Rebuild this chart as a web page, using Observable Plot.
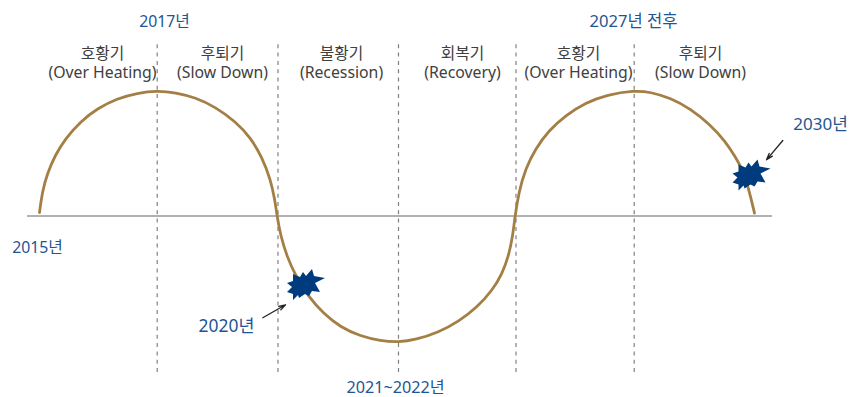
<!DOCTYPE html>
<html lang="ko">
<head>
<meta charset="utf-8">
<style>
  html, body { margin: 0; padding: 0; background: #fff; }
  svg { display: block; }
</style>
<script src="https://cdn.jsdelivr.net/npm/d3@7"></script>
<script src="https://cdn.jsdelivr.net/npm/@observablehq/plot@0.6"></script>
</head>
<body>
<div id="chart"></div>
<script>
// Business cycle curve: horizontal position and height above the trend line
const cycleX = [39,39,41.7,46.7,55,65,80,96.7,116.7,136.7,156.7,175,195,215,235,250,261.7,270,274.3,276.5,280,286.7,295,308.3,323.3,340,360,380,398.3,415,438.3,458.3,476.7,491.7,501.7,508.3,512.3,514.6,518.3,525,535,548.3,565,585,606.7,633.3,650,670,690,710,725,735,741.7,748.3,754,754];
const cycleY = [3,3,23.3,42,61,77,94,107,117,122.5,124.8,123,118,108.5,94,78,58,36,16,0,-20,-41.7,-60,-81.7,-98.3,-111.7,-120.7,-125.3,-126.7,-124.3,-116.7,-106,-91.7,-75,-58.3,-40,-20,0,23.3,46.7,66.7,85,100,112.7,120.7,125,123.5,117.5,106.7,90.5,74,58.3,46.7,26.7,2.3,2.3];

// Phase boundaries
const boundaries = [156.7,277.5,398,515.5,633.7];

// Phase captions
const phaseX = [102,222,341,462,578,700];
const phaseKo = ["호황기","후퇴기","불황기","회복기","호황기","후퇴기"];
const phaseEn = ["(Over Heating)","(Slow Down)","(Recession)","(Recovery)","(Over Heating)","(Slow Down)"];

// Year annotations
const yearLabels = ["2017년","2027년 전후","2015년","2020년","2021~2022년","2030년"];
const yearX = [164,633,37,226,395,820];
const yearY = [194,194,-32,-110.5,-172,90.5];
const yearSize = [15.8,16.6,15.8,17.4,16.2,17];

// Shock markers on the curve
const shockX = [304.5,750];
const shockY = [-70.5,39];

// Arrows from the year labels to the shock markers
const arrowX1 = [262.3,782.3];
const arrowY1 = [-102.3,75];
const arrowX2 = [285,766];
const arrowY2 = [-89.3,55.7];

const navy = "#003c7d";
const yearBlue = "#1f5592";
const font = "'Noto Sans', 'Noto Sans CJK KR', sans-serif";

// Outline of the burst marker, clockwise from its longest spike, in units of r/10
const burstOutline = [
  [20,-8],[10,-3],[15,6],[7,5],[4,10],[0,8],[-6,12],[-7,9],[-12,14],[-12,8],
  [-18,6],[-13,1],[-18,-3],[-12,-5],[-12,-12],[-5,-9],[-2,-14],[1,-10],[7,-17],[9,-10]
];
const burst = {
  draw(context, size) {
    const unit = Math.sqrt(size / Math.PI) / 10;
    burstOutline.forEach(([bx, by], i) => {
      if (i === 0) context.moveTo(bx * unit, by * unit);
      else context.lineTo(bx * unit, by * unit);
    });
    context.closePath();
  }
};

const chart = Plot.plot({
  width: 851,
  height: 397,
  margin: 0,
  style: { background: "#fff", fontFamily: font },
  x: { domain: [0, 851], axis: null },
  y: { domain: [-182, 215], axis: null },
  marks: [
    Plot.ruleX(boundaries, { y1: -157, y2: 172, stroke: "#808080", strokeWidth: 1.2, strokeDasharray: "4,4.3" }),
    Plot.ruleY([-0.5], { x1: 27, x2: 772, stroke: "#999", strokeWidth: 1.6 }),
    Plot.line(cycleX.map((x, i) => ({ x, y: cycleY[i] })), {
      x: "x", y: "y", curve: "basis", stroke: "#a37f45", strokeWidth: 2.8
    }),
    Plot.dot(shockX.map((x, i) => ({ x, y: shockY[i] })), {
      x: "x", y: "y", r: 10, symbol: burst, fill: navy, stroke: "none"
    }),
    Plot.arrow(arrowX1.map((x, i) => ({ x1: x, y1: arrowY1[i], x2: arrowX2[i], y2: arrowY2[i] })), {
      x1: "x1", y1: "y1", x2: "x2", y2: "y2", stroke: "#222", strokeWidth: 1.3, headLength: 8, headAngle: 35, bend: 0
    }),
    Plot.text(phaseKo, {
      x: (d, i) => phaseX[i], y: 153.5,
      text: (d, i) => `${d}\n${phaseEn[i]}`,
      fontSize: 15.8, lineHeight: 1.2, fill: "#404040"
    }),
    Plot.text(yearLabels, {
      x: (d, i) => yearX[i], y: (d, i) => yearY[i], text: d => d,
      fontSize: (d, i) => yearSize[i], fill: yearBlue
    })
  ]
});
document.getElementById("chart").append(chart);
</script>
</body>
</html>
